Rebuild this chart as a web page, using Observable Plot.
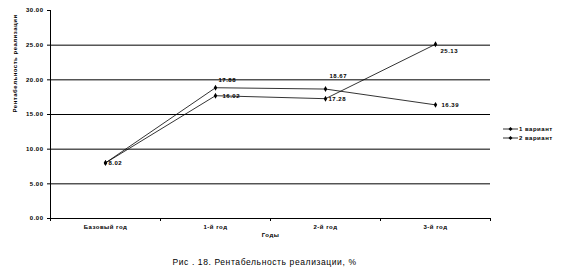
<!DOCTYPE html>
<html><head><meta charset="utf-8">
<script src="https://cdn.jsdelivr.net/npm/d3@7"></script>
<script src="https://cdn.jsdelivr.net/npm/@observablehq/plot@0.6"></script>
<style>
body{margin:0;background:#fff;}
#wrap{position:relative;width:564px;height:278px;overflow:hidden;}
#wrap svg text{letter-spacing:0.5px;}
.legend{position:absolute;left:503px;top:124px;font:bold 6px "Liberation Sans",Arial,sans-serif;letter-spacing:0.5px;color:#000;}
.legend div{height:9px;display:flex;align-items:center;white-space:nowrap;}
.legend svg{margin-right:1px;}
</style></head><body><div id="wrap"></div>
<script>
const categories = ["Базовый год", "1-й год", "2-й год", "3-й год"];
const variant1 = [8.02, 18.86, 18.67, 16.39];
const variant2 = [8.02, 17.71, 17.28, 25.13];
const labels1 = ["8.02", "17.88", "18.67", "16.39"];
const labels2 = ["", "16.02", "17.28", "25.13"];
const seriesNames = ["1 вариант", "2 вариант"];
const yTicks = [0, 5, 10, 15, 20, 25, 30];
const gridValues = [5, 10, 15, 20, 25];
const xTitle = "Годы";
const yTitle = "Рентабельность реализации";
const caption = "Рис . 18. Рентабельность реализации, %";

const data = [];
[variant1, variant2].forEach((vals, s) => {
  const labs = s === 0 ? labels1 : labels2;
  vals.forEach((v, i) => data.push({series: seriesNames[s], s, i, x: i + 0.5, value: v, label: labs[i]}));
});
const pick = (s, i) => data.filter(d => d.s === s && d.i === i);
const lbl = (s, i, dx, dy) => Plot.text(pick(s, i), {x: "x", y: "value", text: "label", textAnchor: "start", dx, dy, fontSize: 6, fontWeight: "bold"});

const chart = Plot.plot({
  width: 564, height: 278,
  marginLeft: 50, marginRight: 74, marginTop: 10, marginBottom: 60,
  style: {fontFamily: "'Liberation Sans', Arial, sans-serif", fontSize: "6px", fontWeight: "bold", background: "#fff", color: "#000"},
  x: {type: "linear", domain: [0, categories.length]},
  y: {domain: [0, 30]},
  marks: [
    Plot.ruleY(gridValues, {stroke: "#000", strokeWidth: 1}),
    Plot.ruleY([0], {stroke: "#000", strokeWidth: 1}),
    Plot.ruleX([0], {stroke: "#000", strokeWidth: 1}),
    Plot.axisY(yTicks, {tickSize: 3, tickPadding: 4, tickFormat: d3.format(".2f"), label: null, fontSize: 6}),
    Plot.axisX(d3.range(categories.length + 1), {tickSize: 3, tickFormat: () => "", label: null}),
    Plot.axisX(categories.map((c, i) => i + 0.5), {tickSize: 0, tickPadding: 6, tickFormat: d => categories[Math.floor(d)], label: null, fontSize: 6}),
    Plot.line(data, {x: "x", y: "value", z: "series", stroke: "#000", strokeWidth: 0.8}),
    Plot.dot(data, {x: "x", y: "value", symbol: "diamond", fill: "#000", r: 1.8}),
    lbl(0, 0, 3, 0),
    lbl(0, 1, 3, -8),
    lbl(1, 1, 7, 0),
    lbl(0, 2, 4, -13),
    lbl(1, 2, 3, 0),
    lbl(1, 3, 5, 7),
    lbl(0, 3, 6, 0),
    Plot.text([xTitle], {frameAnchor: "bottom", dy: 18, fontSize: 6, fontWeight: "bold"}),
    Plot.text([yTitle], {frameAnchor: "left", rotate: -90, dx: -35, dy: -2, fontSize: 6, fontWeight: "bold"}),
    Plot.text([caption], {frameAnchor: "bottom", dy: 46, dx: -6, fontSize: 8.5, fontWeight: "normal"})
  ]
});
d3.select(chart).selectAll("text").filter(function() { return this.textContent === caption; }).style("letter-spacing", "0.6px");
const wrap = document.getElementById("wrap");
wrap.appendChild(chart);

const legend = document.createElement("div");
legend.className = "legend";
seriesNames.forEach(name => {
  const row = document.createElement("div");
  row.innerHTML = `<svg width="15" height="6"><line x1="0" y1="3" x2="15" y2="3" stroke="#000" stroke-width="0.8"/><path d="M7.5,1 L9.5,3 L7.5,5 L5.5,3Z" fill="#000"/></svg><span>${name}</span>`;
  legend.appendChild(row);
});
wrap.appendChild(legend);
</script></body></html>
